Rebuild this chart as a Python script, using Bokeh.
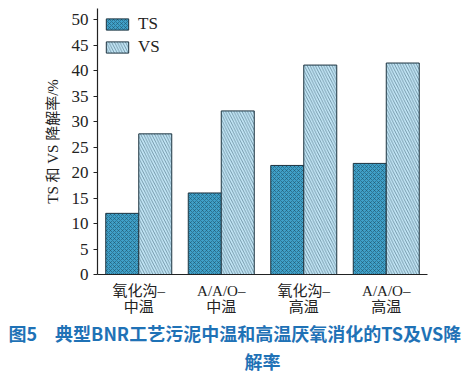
from bokeh.plotting import figure
from bokeh.models import ColumnDataSource, Legend, LegendItem, Title, FactorRange
from bokeh.transform import dodge
from bokeh.embed import file_html
from bokeh.resources import INLINE

categories = ["氧化沟–\n中温", "A/A/O–\n中温", "氧化沟–\n高温", "A/A/O–\n高温"]
ts_values = [12.0, 16.0, 21.4, 21.8]
vs_values = [27.6, 32.1, 41.1, 41.5]
y_ticks = [0, 5, 10, 15, 20, 25, 30, 35, 40, 45, 50]
caption_line1 = "图5　典型BNR工艺污泥中温和高温厌氧消化的TS及VS降"
caption_line2 = "解率"

SERIF = "Liberation Serif, Noto Sans CJK SC"
SANS = "Noto Sans CJK SC"

src = ColumnDataSource(dict(cat=categories, ts=ts_values, vs=vs_values))

p = figure(x_range=FactorRange(*categories, range_padding=0), y_range=(0, 52.2),
           width=471, height=374, output_backend="svg", toolbar_location=None,
           min_border_left=97, min_border_right=44, min_border_top=8, min_border_bottom=100)

r_ts = p.vbar(x=dodge("cat", -0.2, range=p.x_range), top="ts", width=0.4, source=src,
              fill_color="#3fa0c8", line_color="#1e3440", line_width=1,
              hatch_pattern="diagonal_cross", hatch_color="#1d4f66", hatch_scale=4,
              hatch_weight=0.55)
r_vs = p.vbar(x=dodge("cat", 0.2, range=p.x_range), top="vs", width=0.4, source=src,
              fill_color="#c4e7f7", line_color="#1e3440", line_width=1,
              hatch_pattern="left_diagonal_line", hatch_color="#3d6275", hatch_scale=5.5,
              hatch_weight=0.6)

legend = Legend(items=[LegendItem(label="TS", renderers=[r_ts]),
                       LegendItem(label="VS", renderers=[r_vs])],
                location="top_left", border_line_color=None, background_fill_alpha=0,
                glyph_width=28, glyph_height=14, label_text_font=SERIF,
                label_text_font_size="17px", label_text_color="#222222",
                spacing=3, padding=2, margin=6, label_standoff=7)
p.add_layout(legend)

p.xgrid.visible = False
p.ygrid.visible = False
p.outline_line_color = None

p.yaxis.ticker = y_ticks
p.yaxis.axis_label = "TS 和 VS 降解率/%"
p.yaxis.axis_label_text_font = SERIF
p.yaxis.axis_label_text_font_style = "normal"
p.yaxis.axis_label_text_font_size = "15px"
p.yaxis.axis_label_text_color = "#222222"
p.yaxis.axis_label_standoff = 8
p.yaxis.major_label_text_font = SERIF
p.yaxis.major_label_text_font_size = "17px"
p.yaxis.major_label_text_color = "#222222"
p.yaxis.minor_tick_line_color = None
p.yaxis.major_tick_in = 0
p.yaxis.major_tick_out = 4

p.xaxis.major_label_text_font = SERIF
p.xaxis.major_label_text_font_size = "15px"
p.xaxis.major_label_text_color = "#222222"
p.xaxis.major_label_text_line_height = 1.0
p.xaxis.major_label_standoff = 2
p.xaxis.axis_label_standoff = 0

for ax in (p.xaxis, p.yaxis):
    ax.axis_line_color = "#222222"
    ax.axis_line_width = 1.2
p.yaxis.major_tick_line_color = "#222222"
p.xaxis.major_tick_line_color = None

t1 = Title(text=caption_line1, align="left", offset=-89, text_font=SANS,
           text_font_size="18px", text_color="#1f72b6", text_font_style="bold",
           standoff=0, text_line_height=0.8)
t2 = Title(text=caption_line2, align="center", offset=-27, text_font=SANS,
           text_font_size="18px", text_color="#1f72b6", text_font_style="bold",
           standoff=0, text_line_height=1.0)
p.add_layout(t1, "below")
p.add_layout(t2, "below")

open("out.html", "w").write(file_html(p, INLINE))
